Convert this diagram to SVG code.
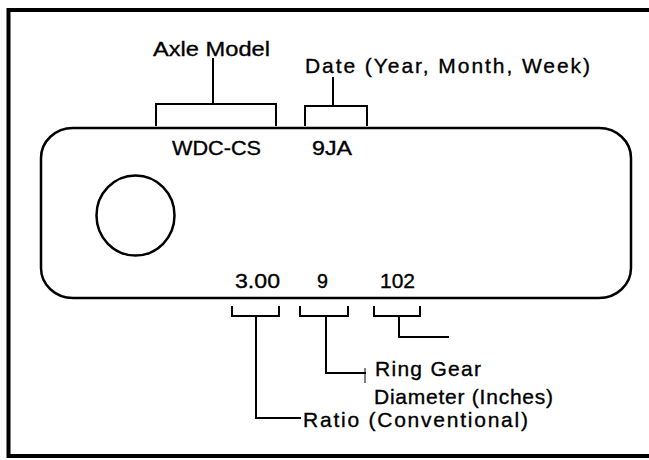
<svg xmlns="http://www.w3.org/2000/svg" width="649" height="460" viewBox="0 0 649 460">
<style>
text{font-family:"Liberation Sans",Arial,sans-serif;font-size:21px;fill:#000;stroke:#000;stroke-width:0.35;}
.ln{fill:none;stroke:#000;stroke-width:2;stroke-linecap:square;}
.thin{fill:none;stroke:#000;stroke-width:1;}
</style>
<rect width="649" height="460" fill="#fff"/>
<g id="frame"><rect x="8.5" y="10" width="650" height="446" fill="none" stroke="#000" stroke-width="4"/></g>
<g id="plate">
<rect x="41" y="128" width="590" height="170" rx="32" ry="30" fill="none" stroke="#000" stroke-width="2.5"/>
<ellipse cx="135.5" cy="215.5" rx="39" ry="40" fill="none" stroke="#000" stroke-width="2.5"/>
<text x="172" y="155" textLength="89" lengthAdjust="spacingAndGlyphs">WDC-CS</text>
<text x="312" y="155" textLength="40" lengthAdjust="spacingAndGlyphs">9JA</text>
<text x="235" y="288" textLength="45" lengthAdjust="spacingAndGlyphs">3.00</text>
<text x="317" y="288" textLength="11" lengthAdjust="spacingAndGlyphs">9</text>
<text x="380" y="288" textLength="35" lengthAdjust="spacingAndGlyphs">102</text>
</g>
<g id="label-axle-model"><text x="153" y="56" textLength="117" lengthAdjust="spacingAndGlyphs">Axle Model</text></g>
<g id="label-date"><text x="305" y="73" textLength="285" lengthAdjust="spacing">Date (Year, Month, Week)</text></g>
<g id="label-ring-gear">
<text x="375" y="376" textLength="106" lengthAdjust="spacing">Ring Gear</text>
<text x="374" y="404" textLength="179" lengthAdjust="spacing">Diameter (Inches)</text>
</g>
<g id="label-ratio"><text x="303" y="427" textLength="225" lengthAdjust="spacing">Ratio (Conventional)</text></g>
<g id="connectors">
<path class="ln" d="M213 59V104M156 125V104H276V125"/>
<path class="ln" d="M333 78V106M305 125V106H367V125"/>
<path class="ln" d="M232 307V316H279V307M256 316V418H300"/>
<path class="ln" d="M300 307V316H348V307M326 316V373H365"/>
<path class="thin" d="M365 368V383"/>
<path class="ln" d="M374 307V316H420V307M399 316V337H448"/>
</g>
</svg>
